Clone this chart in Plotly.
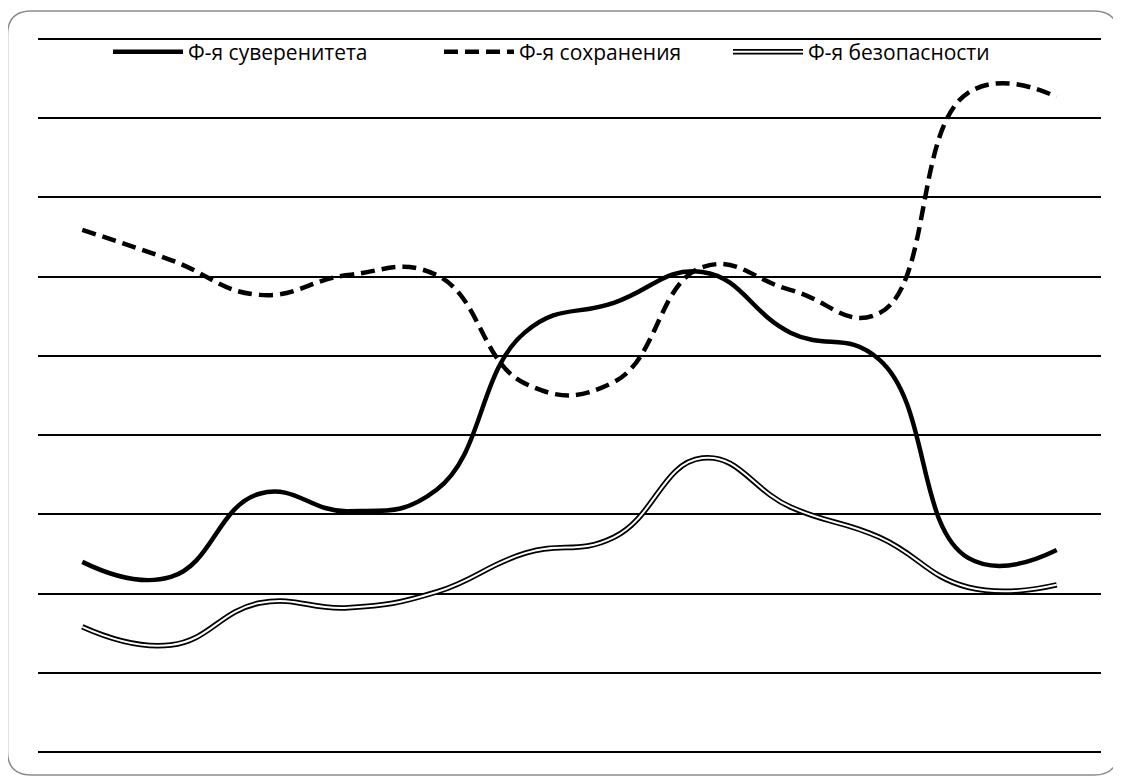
import plotly.graph_objects as go

# ---- data (arbitrary units, gridlines every 10) ----
points = list(range(12))
sovereignty = [24.0, 22.1, 32.6, 30.4, 33.1, 53.0, 56.7, 60.6, 52.9, 49.5, 24.5, 25.5]
preservation = [65.9, 62.1, 57.7, 60.2, 60.2, 46.5, 46.7, 61.2, 58.3, 55.4, 83.2, 82.7]
security = [15.8, 13.5, 18.8, 18.2, 20.2, 25.1, 27.1, 37.1, 30.9, 27.1, 20.8, 21.1]

names = ["Ф-я суверенитета", "Ф-я сохранения", "Ф-я безопасности"]

OFF = 8  # page body margin of the browser
W, H = 1121 - OFF, 778 - OFF
ML, MT = 38 - OFF, 37 - OFF
PW, PH = 1063, 717
MR, MB = W - ML - PW, H - MT - PH


def px(x):  # screen x -> paper
    return (x - OFF - ML) / PW


def py(y):  # screen y -> paper
    return 1 - (y - OFF - MT) / PH


SM = 1.3
fig = go.Figure()
fig.add_trace(go.Scatter(x=points, y=sovereignty, name=names[0], mode="lines",
                         line=dict(color="black", width=4.5, shape="spline", smoothing=SM),
                         legend="legend"))
fig.add_trace(go.Scatter(x=points, y=preservation, name=names[1], mode="lines",
                         line=dict(color="black", width=4.5, shape="spline", smoothing=SM,
                                   dash="14px,7px"),
                         legend="legend2"))
fig.add_trace(go.Scatter(x=points, y=security, name=names[2], mode="lines",
                         line=dict(color="black", width=5.5, shape="spline", smoothing=SM),
                         legend="legend3"))
fig.add_trace(go.Scatter(x=points, y=security, name="\u00a0", mode="lines",
                         line=dict(color="white", width=2, shape="spline", smoothing=SM),
                         legend="legend4", hoverinfo="skip"))

font = dict(family="Open Sans, Noto Sans, sans-serif", size=21, color="black")
leg = dict(orientation="h", yanchor="middle", xanchor="left", bgcolor="rgba(0,0,0,0)",
           font=font, borderwidth=0, itemwidth=70)

# rounded border around the whole chart
L, R, T, B, r = 7.5, 1118, 11, 775, 24
path = (f"M {px(L+r)},{py(T)} L {px(R-r)},{py(T)} Q {px(R)},{py(T)} {px(R)},{py(T+r)} "
        f"L {px(R)},{py(B-r)} Q {px(R)},{py(B)} {px(R-r)},{py(B)} "
        f"L {px(L+r)},{py(B)} Q {px(L)},{py(B)} {px(L)},{py(B-r)} "
        f"L {px(L)},{py(T+r)} Q {px(L)},{py(T)} {px(L+r)},{py(T)} Z")

fig.update_layout(
    width=W, height=H,
    margin=dict(l=ML, r=MR, t=MT, b=MB),
    paper_bgcolor="white", plot_bgcolor="white",
    font=font,
    legend=dict(leg, x=px(108), y=py(52)),
    legend2=dict(leg, x=px(439), y=py(52)),
    legend3=dict(leg, x=px(728), y=py(52)),
    legend4=dict(leg, x=px(728), y=py(52)),
    xaxis=dict(range=[-0.5, 11.5], showgrid=False, zeroline=False, showticklabels=False,
               ticks="", showline=False),
    yaxis=dict(range=[-0.25, 90.25], dtick=10, tick0=0, showgrid=True, gridcolor="black",
               gridwidth=2, zeroline=False, showticklabels=False, ticks="", showline=False),
    shapes=[dict(type="path", xref="paper", yref="paper", path=path,
                 line=dict(color="#8c8c8c", width=1.5), layer="below")],
    showlegend=True,
)

fig.write_html("out.html")
